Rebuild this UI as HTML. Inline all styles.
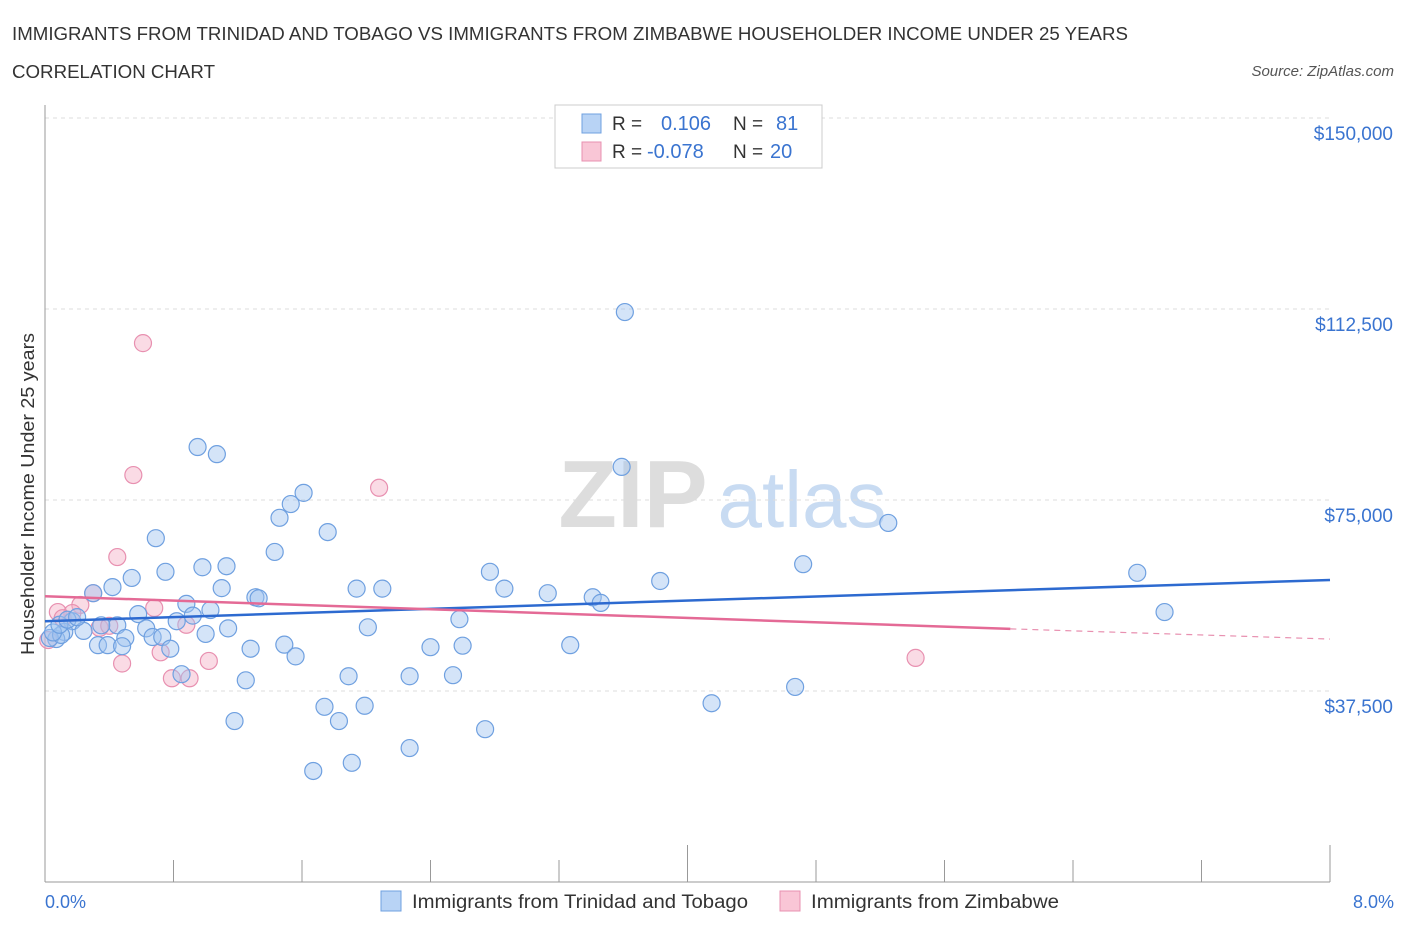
<!DOCTYPE html>
<html><head><meta charset="utf-8"><style>
body{margin:0;background:#fff;font-family:"Liberation Sans",sans-serif;}
svg text{font-family:"Liberation Sans",sans-serif;}
</style></head><body>
<svg id="c" width="1406" height="930" viewBox="0 0 1406 930" xmlns="http://www.w3.org/2000/svg">
<text x="12" y="40" font-size="18" fill="#333" textLength="1116" lengthAdjust="spacingAndGlyphs">IMMIGRANTS FROM TRINIDAD AND TOBAGO VS IMMIGRANTS FROM ZIMBABWE HOUSEHOLDER INCOME UNDER 25 YEARS</text>
<text x="12" y="78" font-size="18" fill="#333" textLength="203" lengthAdjust="spacingAndGlyphs">CORRELATION CHART</text>
<text x="1394" y="76" font-size="15" fill="#555" font-style="italic" text-anchor="end">Source: ZipAtlas.com</text>
<g>
<text x="633" y="527" font-size="96" fill="#ddd" text-anchor="middle" font-family="Liberation Serif" font-weight="bold">ZIP</text>
<text x="802" y="527" font-size="80" fill="#c8dbf2" text-anchor="middle">atlas</text>
</g>
<g id="grid"></g><g id="axes"></g><g id="pts"></g><g id="trend"></g>
<text x="34" y="494" font-size="18" fill="#333" text-anchor="middle" textLength="322" lengthAdjust="spacingAndGlyphs" transform="rotate(-90 34 494)">Householder Income Under 25 years</text>
<text x="45" y="908" font-size="18" fill="#3a74d0">0.0%</text>
<text x="1394" y="908" font-size="18" fill="#3a74d0" text-anchor="end">8.0%</text>
<g>
<rect x="555" y="105" width="267" height="63" fill="#fff" stroke="#ccc"/>
<rect x="582" y="114" width="19" height="19" fill="#b8d3f5" stroke="#6fa0e0"/>
<rect x="582" y="142" width="19" height="19" fill="#f9c6d6" stroke="#e890b0"/>
<text x="612" y="130" font-size="19" fill="#333">R =</text>
<text x="661" y="130" font-size="20" fill="#3a74d0">0.106</text>
<text x="733" y="130" font-size="19" fill="#333">N =</text>
<text x="776" y="130" font-size="20" fill="#3a74d0">81</text>
<text x="612" y="158" font-size="19" fill="#333">R =</text>
<text x="647" y="158" font-size="20" fill="#3a74d0">-0.078</text>
<text x="733" y="158" font-size="19" fill="#333">N =</text>
<text x="770" y="158" font-size="20" fill="#3a74d0">20</text>
</g>
<g>
<rect x="381" y="891" width="20" height="20" fill="#b8d3f5" stroke="#6fa0e0"/>
<text x="412" y="908" font-size="19" fill="#333" textLength="336" lengthAdjust="spacingAndGlyphs">Immigrants from Trinidad and Tobago</text>
<rect x="780" y="891" width="20" height="20" fill="#f9c6d6" stroke="#e890b0"/>
<text x="811" y="908" font-size="19" fill="#333" textLength="248" lengthAdjust="spacingAndGlyphs">Immigrants from Zimbabwe</text>
</g>
</svg>
<script>
const yTicks=[37.5,75,112.5,150];
const yTickLabels=["$37,500","$75,000","$112,500","$150,000"];
const xTicks=[0,0.8,1.6,2.4,3.2,4.0,4.8,5.6,6.4,7.2,8.0];
const blueX=[3.61,0.95,1.07,3.59,1.61,1.53,1.46,5.25,1.76,0.69,1.43,4.72,1.13,0.98,0.75,2.77,6.80,0.54,3.83,0.42,1.10,1.94,2.10,2.86,3.13,0.30,1.31,1.33,3.41,3.46,0.88,1.03,6.97,0.58,0.92,2.58,0.82,0.17,0.45,0.35,0.63,1.14,2.01,0.12,0.24,1.00,0.50,0.67,0.73,0.07,0.03,0.10,0.33,0.39,0.48,0.78,1.28,1.49,3.27,2.40,2.60,1.56,0.85,1.25,1.89,2.27,2.54,4.67,4.15,1.74,1.99,1.18,1.83,2.74,2.27,1.91,1.67,0.05,0.09,0.14,0.20];
const blueY=[111.9,85.4,84.0,81.5,76.4,74.2,71.5,70.5,68.7,67.5,64.8,62.4,62.0,61.8,60.9,60.9,60.7,59.7,59.1,57.9,57.7,57.6,57.6,57.6,56.7,56.7,55.9,55.7,55.9,54.8,54.6,53.4,53.0,52.6,52.3,51.6,51.2,51.2,50.4,50.4,49.8,49.8,50.0,49.1,49.3,48.7,47.9,48.1,48.1,47.7,47.9,48.5,46.5,46.5,46.3,45.8,45.8,46.6,46.5,46.1,46.4,44.3,40.8,39.6,40.4,40.4,40.6,38.3,35.1,34.4,34.6,31.6,31.6,30.0,26.3,23.4,21.8,49.0,50.5,51.5,52.0];
const pinkX=[0.61,0.55,2.08,0.45,0.30,0.08,0.22,0.68,0.17,0.88,0.34,0.40,0.72,0.48,1.02,0.79,0.90,5.42,0.02,0.11];
const pinkY=[105.8,79.9,77.4,63.8,56.7,53.0,54.4,53.8,52.8,50.5,49.9,50.3,45.1,42.9,43.4,40.0,40.0,44.0,47.5,51.8];
const blueTrend=[[0,51.2],[8,59.3]];
const pinkTrendSolid=[[0,56.1],[6.01,49.7]];
const pinkTrendDash=[[6.01,49.7],[8,47.7]];
const NS="http://www.w3.org/2000/svg";
const X=v=>45+v/8*1285, Y=v=>118+(150-v)/37.5*191;
function mk(t,a,p){const e=document.createElementNS(NS,t);for(const k in a)e.setAttribute(k,a[k]);p.appendChild(e);return e;}
const grid=document.getElementById('grid'),axes=document.getElementById('axes'),pts=document.getElementById('pts'),tr=document.getElementById('trend');
yTicks.forEach((t,i)=>{
 const l=mk('line',{x1:45,x2:1330,y1:Y(t),y2:Y(t),stroke:'#ddd','stroke-dasharray':'4,4'},grid);
 
 
 const tx=mk('text',{x:1393,y:Y(t)+22,'font-size':19,fill:'#3a74d0','text-anchor':'end'},grid);
 tx.textContent=yTickLabels[i];
 
 
});
const ya=mk('line',{x1:45,x2:45,y1:105,y2:882,stroke:'#999'},axes);


const xa=mk('line',{x1:45,x2:1330,y1:882,y2:882,stroke:'#999'},axes);


xTicks.forEach(t=>{
 const l=mk('line',{x1:X(t),x2:X(t),y1:882,y2:t==0?882:(t==4||t==8?845:860),stroke:'#999'},axes);
 
 
});
function dots(xs,ys,fill,stroke,name){xs.forEach((x,i)=>{
 const c=mk('circle',{cx:X(x),cy:Y(ys[i]),r:8.5,fill:fill,stroke:stroke,'stroke-width':1.2},pts);
 
 
});}
dots(pinkX,pinkY,'rgba(245,175,198,0.45)','#e890b0','zimbabwe-point');
dots(blueX,blueY,'rgba(160,195,240,0.45)','#6fa0e0','trinidad-point');
function ln(a,col,dash,name){const l=mk('line',{x1:X(a[0][0]),y1:Y(a[0][1]),x2:X(a[1][0]),y2:Y(a[1][1]),stroke:col,'stroke-width':dash?1.2:2.5},tr);
 if(dash)l.setAttribute('stroke-dasharray','6,5');
 
 }
ln(blueTrend,'#2d6ad0',false,'trinidad-trend-line');
ln(pinkTrendSolid,'#e46a96',false,'zimbabwe-trend-line');
ln(pinkTrendDash,'#e890b0',true,'zimbabwe-trend-extension');
</script>
</body></html>
